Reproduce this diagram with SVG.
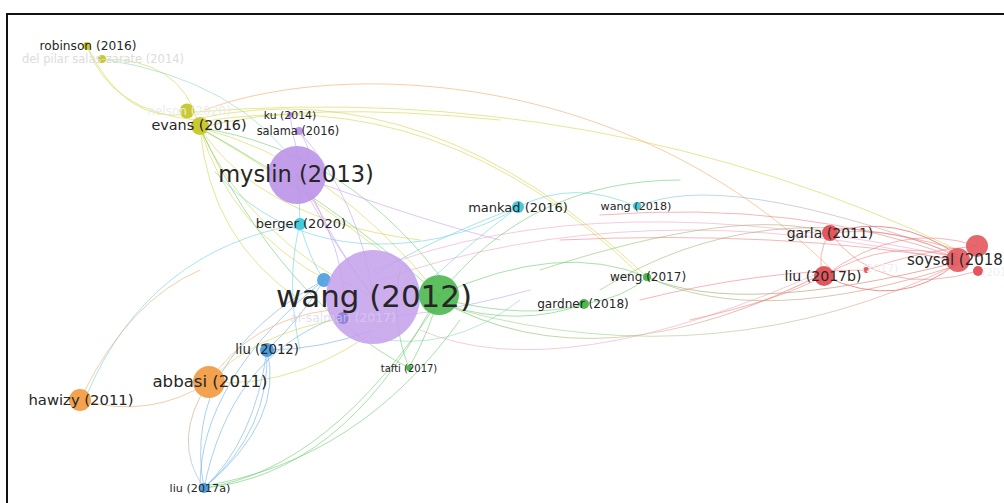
<svg xmlns="http://www.w3.org/2000/svg" width="1004" height="503" viewBox="0 0 1004 503">
  <style>
    .lbl { font-family: "DejaVu Sans", "Noto Sans", sans-serif; fill: #262626; text-anchor: middle; }
    .faint { fill: #dcdcdc; }
    .e { fill: none; stroke-linecap: round; stroke-width: 1; }
    .y { stroke: #d6d64c; stroke-opacity: 0.6; }
    .g { stroke: #62c866; stroke-opacity: 0.55; }
    .c { stroke: #5ccfe0; stroke-opacity: 0.55; }
    .b { stroke: #72b0ea; stroke-opacity: 0.6; }
    .o { stroke: #f5b07a; stroke-opacity: 0.65; }
    .r { stroke: #ef7a7e; stroke-opacity: 0.55; }
    .p { stroke: #c9a0ec; stroke-opacity: 0.6; }
    .k { stroke: #f2a6c8; stroke-opacity: 0.6; }
    .t { stroke: #8fd8c0; stroke-opacity: 0.6; }
    .n { stroke-opacity: 0.85; }
    .purple { fill: #bb94e8; }
    .green { fill: #4cb84f; }
    .yellow { fill: #c9c932; }
    .cyan { fill: #47c9dc; }
    .blue { fill: #4c9ce0; }
    .orange { fill: #f3a24f; }
    .red { fill: #e3565c; }
  </style>
  <defs>
    <linearGradient id="gr1" gradientUnits="userSpaceOnUse" x1="440" y1="0" x2="830" y2="0">
      <stop offset="0" stop-color="#7ccc6c"/>
      <stop offset="0.55" stop-color="#d8c8a0"/>
      <stop offset="1" stop-color="#f07a70"/>
    </linearGradient>
    <linearGradient id="gr2" gradientUnits="userSpaceOnUse" x1="600" y1="0" x2="960" y2="0">
      <stop offset="0" stop-color="#86cc70"/>
      <stop offset="1" stop-color="#f08080"/>
    </linearGradient>
    <linearGradient id="gr3" gradientUnits="userSpaceOnUse" x1="630" y1="0" x2="960" y2="0">
      <stop offset="0" stop-color="#6fd2e2"/>
      <stop offset="1" stop-color="#f09090"/>
    </linearGradient>
    <linearGradient id="gr4" gradientUnits="userSpaceOnUse" x1="0" y1="380" x2="0" y2="490">
      <stop offset="0" stop-color="#f0b070"/>
      <stop offset="1" stop-color="#a8c8e8"/>
    </linearGradient>
  </defs>

  <rect width="1004" height="503" fill="#ffffff"/>

  <!-- connectors -->
  <g id="edges">
    <!-- yellow cluster -->
    <path class="e y" d="M87,46 Q110,112 196,120"/>
    <path class="e y" d="M87,46 Q125,125 190,114"/>
    <path class="e y" d="M102,59 Q180,58 198,122"/>
    <path class="e t" d="M102,59 Q240,80 300,170"/>
    <path class="e y" d="M200,118 Q430,70 647,277"/>
    <path class="e y" d="M200,122 Q440,80 640,275"/>
    <path class="e y" d="M195,112 Q600,80 958,250"/>
    <path class="e y" d="M200,128 Q300,100 500,120"/>
    <path class="e y" d="M200,128 Q250,240 373,297"/>
    <path class="e y" d="M200,128 Q230,230 330,282"/>
    <path class="e y" d="M200,128 Q330,160 439,295"/>
    <path class="e y" d="M200,128 Q260,220 420,240"/>
    <path class="e y" d="M200,128 Q210,240 300,300"/>
    <path class="e y" d="M200,128 Q290,180 380,250"/>
    <path class="e g" d="M200,128 Q330,200 439,295"/>
    <path class="e g" d="M200,128 Q280,300 409,368"/>
    <path class="e g" d="M200,128 Q350,150 450,290"/>
    <path class="e y" d="M209,382 Q300,390 390,320"/>
    <path class="e o" d="M205,110 C330,62 620,62 830,268"/>

    <!-- purple cluster -->
    <path class="e p" d="M290,115 Q300,200 373,297"/>
    <path class="e p" d="M299,131 Q320,160 297,175"/>
    <path class="e p" d="M299,131 Q360,200 373,297"/>
    <path class="e p" d="M297,175 Q330,240 373,297"/>
    <path class="e p" d="M297,175 Q350,250 343,318"/>
    <path class="e p" d="M297,175 Q420,220 500,240"/>
    <path class="e k" d="M373,270 Q600,180 958,258"/>
    <path class="e k" d="M380,280 Q640,190 958,262"/>
    <path class="e k" d="M420,330 Q560,390 830,268"/>
    <path class="e p" d="M343,318 Q420,320 530,290"/>

    <!-- cyan cluster -->
    <path class="e c" d="M215,172 Q300,265 440,238 Q490,226 518,207" stroke-width="3.5" stroke-opacity="0.7"/>
    <path class="e c" d="M518,207 Q575,178 637,207"/>
    <path class="e" d="M637,207 Q720,168 958,255" stroke="url(#gr3)" stroke-opacity="0.6"/>
    <path class="e c" d="M518,207 Q430,240 373,275"/>
    <path class="e c" d="M518,207 Q460,250 410,300"/>
    <path class="e c" d="M300,224 Q310,260 324,280"/>
    <path class="e c" d="M300,224 Q150,250 88,392"/>
    <path class="e c" d="M300,224 Q285,280 300,350"/>
    <path class="e c" d="M297,175 Q300,200 300,224"/>
    <path class="e t" d="M370,337 Q450,355 520,300"/>

    <!-- green cluster -->
    <path class="e g" d="M445,305 Q520,328 584,304" stroke-width="3" stroke-opacity="0.6"/>
    <path class="e g" d="M445,300 Q530,320 584,304"/>
    <path class="e g" d="M584,304 Q625,298 647,277" stroke-width="2"/>
    <path class="e g" d="M439,295 Q560,240 647,277"/>
    <path class="e g" d="M439,295 Q530,180 680,180"/>
    <path class="e" d="M439,300 Q600,390 830,270" stroke="url(#gr1)" stroke-width="3" stroke-opacity="0.75"/>
    <path class="e" d="M647,277 Q740,318 958,262" stroke="url(#gr2)" stroke-width="2" stroke-opacity="0.7"/>
    <path class="e" d="M647,277 Q760,330 958,265" stroke="url(#gr2)" stroke-opacity="0.6"/>
    <path class="e" d="M600,290 Q760,190 958,250" stroke="url(#gr2)" stroke-opacity="0.6"/>
    <path class="e" d="M540,270 Q740,205 830,233" stroke="url(#gr2)" stroke-opacity="0.6"/>
    <path class="e" d="M460,310 Q720,380 958,264" stroke="url(#gr2)" stroke-opacity="0.5"/>
    <path class="e g" d="M204,488 Q330,470 439,300"/>
    <path class="e g" d="M204,488 Q340,475 430,310"/>
    <path class="e g" d="M204,486 Q360,460 460,320"/>
    <path class="e g" d="M409,368 Q390,320 400,270"/>
    <path class="e g" d="M409,368 Q430,330 439,295"/>

    <!-- blue cluster -->
    <path class="e b" d="M267,350 Q285,420 204,488" stroke-width="1.5"/>
    <path class="e b" d="M267,350 Q255,440 204,488"/>
    <path class="e b" d="M267,350 Q270,430 206,486"/>
    <path class="e b" d="M324,280 Q180,360 204,488"/>
    <path class="e b" d="M324,280 Q200,380 200,486"/>
    <path class="e b" d="M204,488 Q230,360 330,320"/>
    <path class="e b" d="M267,350 Q320,350 373,330"/>
    <path class="e b" d="M324,280 Q300,320 267,350"/>

    <!-- orange cluster -->
    <path class="e o" d="M80,400 Q150,420 209,382" stroke-width="1.5"/>
    <path class="e o" d="M84,392 Q130,300 200,270"/>
    <path class="e" d="M209,382 Q170,440 204,488" stroke="url(#gr4)" stroke-width="3" stroke-opacity="0.75"/>
    <path class="e o" d="M209,382 Q250,320 330,310"/>
    <path class="e y" d="M209,382 Q250,335 343,318"/>

    <!-- red cluster -->
    <path class="e r n" d="M830,233 Q895,212 958,255" stroke-width="2.5"/>
    <path class="e r" d="M830,233 Q900,225 958,258" stroke-width="1.5"/>
    <path class="e r n" d="M824,276 Q900,312 958,262" stroke-width="2.5"/>
    <path class="e r" d="M824,276 Q890,236 958,258" stroke-width="2"/>
    <path class="e r" d="M830,233 Q815,255 824,276" stroke-width="1.5"/>
    <path class="e r" d="M830,233 Q880,300 978,271"/>
    <path class="e r" d="M866,270 Q920,250 977,246"/>
    <path class="e r" d="M824,276 Q900,220 977,246"/>
    <path class="e r" d="M600,215 Q800,200 958,258"/>
    <path class="e r" d="M560,240 Q780,230 958,260"/>
    <path class="e r" d="M640,300 Q760,270 866,270"/>
    <path class="e r" d="M690,320 Q780,300 824,276"/>
  </g>

  <!-- frame -->
  <path d="M7,503 L7,14 L1004,14" fill="none" stroke="#111" stroke-width="2"/>

  <!-- nodes -->
  <g id="node-robinson-2016">
    <circle class="yellow" cx="87" cy="46" r="4"/>
    <text class="lbl" x="88" y="50" font-size="12.2">robinson (2016)</text>
  </g>
  <g id="node-del-pilar-2014">
    <circle class="yellow" cx="102" cy="59" r="4"/>
    <text class="lbl faint" x="103" y="63" font-size="11.5">del pilar salas-zarate (2014)</text>
  </g>
  <g id="node-nelson-2020">
    <circle class="yellow" cx="187" cy="111" r="7.5"/>
    <text class="lbl" x="189" y="115" font-size="12" style="fill:#ececec">nelson (2020)</text>
  </g>
  <g id="node-evans-2016">
    <circle class="yellow" cx="200" cy="126" r="9"/>
    <text class="lbl" x="199" y="130" font-size="14.4">evans (2016)</text>
  </g>
  <g id="node-ku-2014">
    <circle class="purple" cx="290" cy="115" r="3"/>
    <text class="lbl" x="290" y="119" font-size="10.9">ku (2014)</text>
  </g>
  <g id="node-salama-2016">
    <circle class="purple" cx="299" cy="131" r="4"/>
    <text class="lbl" x="298" y="135" font-size="11.4">salama (2016)</text>
  </g>
  <g id="node-myslin-2013">
    <circle class="purple" cx="297" cy="175" r="29" fill-opacity="0.9"/>
    <text class="lbl" x="296" y="182" font-size="22.5">myslin (2013)</text>
  </g>
  <g id="node-berger-2020">
    <circle class="cyan" cx="300" cy="224" r="6"/>
    <text class="lbl" x="301" y="228" font-size="13">berger (2020)</text>
  </g>
  <g id="node-mankad-2016">
    <circle class="cyan" cx="518" cy="207" r="6"/>
    <text class="lbl" x="518" y="212" font-size="13">mankad (2016)</text>
  </g>
  <g id="node-wang-2018">
    <circle class="cyan" cx="637" cy="206" r="4"/>
    <text class="lbl" x="636" y="210" font-size="11.2">wang (2018)</text>
  </g>
  <g id="node-blue-hub">
    <circle class="blue" cx="324" cy="280" r="7" fill-opacity="0.9"/>
  </g>
  <g id="node-wang-2012">
    <circle class="purple" cx="373" cy="297" r="47" fill-opacity="0.85" style="fill:#c3a0ec"/>
    <circle cx="343" cy="318" r="6" fill="#8c7cdc" fill-opacity="0.9"/>
    <text class="lbl" x="343" y="322" font-size="12.4" style="fill:#d8d0ea" fill-opacity="0.7">al-salman (2017)</text>
  </g>
  <g id="node-green-hub">
    <circle class="green" cx="439" cy="295" r="20" fill-opacity="0.9"/>
  </g>
  <g id="label-wang-2012">
    <text class="lbl" x="374" y="307" font-size="30.9">wang (2012)</text>
  </g>
  <g id="node-gardner-2018">
    <circle class="green" cx="584" cy="304" r="5"/>
    <text class="lbl" x="583" y="308" font-size="12.1">gardner (2018)</text>
  </g>
  <g id="node-weng-2017">
    <circle class="green" cx="647" cy="277" r="4"/>
    <text class="lbl" x="648" y="281" font-size="12">weng (2017)</text>
  </g>
  <g id="node-tafti-2017">
    <circle class="green" cx="409" cy="368" r="3"/>
    <text class="lbl" x="409" y="372" font-size="10">tafti (2017)</text>
  </g>
  <g id="node-liu-2012">
    <circle class="blue" cx="267" cy="350" r="7"/>
    <text class="lbl" x="267" y="354" font-size="13.2">liu (2012)</text>
  </g>
  <g id="node-abbasi-2011">
    <circle class="orange" cx="209" cy="382" r="16"/>
    <text class="lbl" x="210" y="387" font-size="16.6">abbasi (2011)</text>
  </g>
  <g id="node-hawizy-2011">
    <circle class="orange" cx="80" cy="400" r="11"/>
    <text class="lbl" x="81" y="405" font-size="14.8">hawizy (2011)</text>
  </g>
  <g id="node-liu-2017a">
    <circle class="blue" cx="204" cy="488" r="5"/>
    <text class="lbl" x="200" y="492" font-size="11.2">liu (2017a)</text>
  </g>
  <g id="node-garla-2011">
    <circle class="red" cx="830" cy="233" r="8"/>
    <text class="lbl" x="830" y="238" font-size="14">garla (2011)</text>
  </g>
  <g id="node-red-2017">
    <circle class="red" cx="866" cy="270" r="3"/>
    <text class="lbl" x="880" y="272" font-size="11" style="fill:#efefef">(2017)</text>
  </g>
  <g id="node-liu-2017b">
    <circle class="red" cx="824" cy="276" r="10"/>
    <text class="lbl" x="823" y="281" font-size="14.1">liu (2017b)</text>
  </g>
  <g id="node-red-top">
    <circle class="red" cx="977" cy="246" r="11" fill-opacity="0.9"/>
  </g>
  <g id="node-red-2015">
    <circle class="red" cx="978" cy="271" r="5"/>
    <text class="lbl" x="1000" y="276" font-size="11" style="fill:#efefef">(2015)</text>
  </g>
  <g id="node-soysal-2018">
    <circle class="red" cx="958" cy="260" r="12" fill-opacity="0.9"/>
    <text class="lbl" x="907" y="265" font-size="15" style="text-anchor:start">soysal (2018)</text>
  </g>
</svg>
